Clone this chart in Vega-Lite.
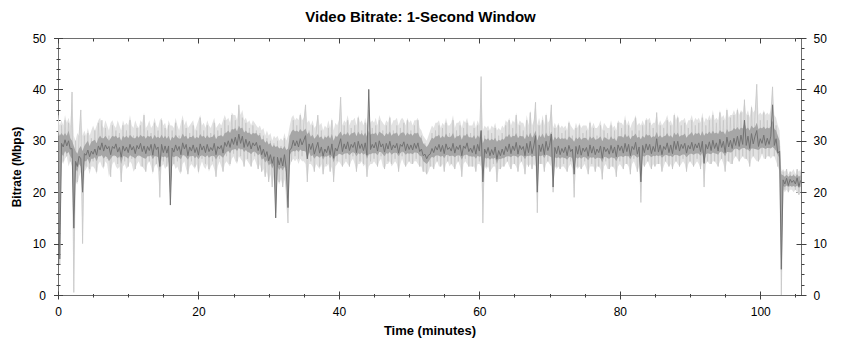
{
"$schema": "https://vega.github.io/schema/vega-lite/v6.json",
"width": 743,
"height": 257,
"autosize": {"type": "none"},
"padding": {"left": 58, "top": 38, "right": 41, "bottom": 59},
"background": "#ffffff",
"title": {"text": "Video Bitrate: 1-Second Window", "font": "Liberation Sans", "fontSize": 15, "fontWeight": "bold", "color": "#000000", "anchor": "middle", "offset": 7, "dx": -9},
"config": {
  "view": {"stroke": "#6e6e6e", "strokeWidth": 1},
  "axis": {"labelFont": "Liberation Sans", "labelFontSize": 12, "labelColor": "#000000", "titleFont": "Liberation Sans", "titleFontSize": 12, "titleFontWeight": "bold", "titleColor": "#000000", "tickColor": "#404040", "domain": false, "grid": false, "labelFlush": false, "labelOverlap": false}
},
"data": {"values": [
{"t":0,"a":35,"h":35,"l":27,"p":32,"q":28,"b":31},{"t":0.25,"a":6,"h":33,"l":6,"p":31,"q":10,"b":7},{"t":0.5,"a":33,"h":34,"l":26,"p":31.5,"q":27.5,"b":29.5},{"t":0.75,"a":26,"h":33,"l":25.5,"p":31,"q":27,"b":28.8},
{"t":1,"a":34,"h":35,"l":26.5,"p":31.5,"q":28,"b":30.2},{"t":1.25,"a":27,"h":33.5,"l":27,"p":31,"q":27.5,"b":29},{"t":1.5,"a":33.5,"h":34.5,"l":25,"p":32,"q":27.8,"b":30},{"t":1.75,"a":26,"h":33,"l":26,"p":30.5,"q":27,"b":28.4},
{"t":2,"a":39.5,"h":39.5,"l":25,"p":30,"q":26.5,"b":28.5},{"t":2.25,"a":0.5,"h":31,"l":0.5,"p":29,"q":14,"b":13},{"t":2.5,"a":30,"h":30,"l":22,"p":28,"q":24.5,"b":26},{"t":2.75,"a":22,"h":31.5,"l":21.5,"p":27.5,"q":24,"b":25},
{"t":3,"a":31,"h":31,"l":23,"p":28.5,"q":25.5,"b":27},{"t":3.25,"a":36,"h":36,"l":24,"p":29,"q":25,"b":26.5},{"t":3.5,"a":10,"h":31,"l":10,"p":28,"q":21,"b":20},{"t":3.75,"a":31,"h":32,"l":24,"p":29,"q":26,"b":27.5},
{"t":4,"a":25,"h":31,"l":24.5,"p":29.5,"q":26,"b":27.2},{"t":4.25,"a":31.5,"h":32.5,"l":25,"p":30,"q":26.5,"b":28.2},{"t":4.5,"a":24.5,"h":31,"l":23.5,"p":29,"q":25.5,"b":26.9},{"t":4.75,"a":30.5,"h":32,"l":25,"p":29.8,"q":26.5,"b":28},
{"t":5,"a":26,"h":33,"l":25,"p":30,"q":26.5,"b":27.4},{"t":5.25,"a":32,"h":32,"l":24.5,"p":30.2,"q":26.8,"b":28.4},{"t":5.5,"a":24,"h":33,"l":23.5,"p":29.5,"q":26,"b":27.2},{"t":5.75,"a":33.5,"h":34,"l":25.5,"p":30.5,"q":27,"b":29},
{"t":6,"a":27,"h":34.5,"l":26,"p":31,"q":27,"b":28.2},{"t":6.25,"a":34,"h":33,"l":25,"p":30.5,"q":27.2,"b":29.6},{"t":6.5,"a":25,"h":32.5,"l":24.5,"p":30.5,"q":26.5,"b":28},{"t":6.75,"a":32.5,"h":34,"l":26,"p":31,"q":27,"b":29.2},
{"t":7,"a":26.5,"h":33,"l":25.5,"p":30.5,"q":26.8,"b":28.4},{"t":7.25,"a":31,"h":32,"l":23,"p":30,"q":26,"b":28.9},{"t":7.5,"a":23,"h":33.5,"l":24,"p":30.5,"q":26.5,"b":27.3},{"t":7.75,"a":33,"h":34,"l":25.5,"p":31,"q":27,"b":28.9},
{"t":8,"a":27,"h":33,"l":26,"p":30.8,"q":27.2,"b":28.5},{"t":8.25,"a":32,"h":32.5,"l":25,"p":31,"q":27,"b":29.4},{"t":8.5,"a":25.5,"h":34,"l":24.5,"p":30.5,"q":26.6,"b":27.8},{"t":8.75,"a":31.5,"h":33,"l":25,"p":30.8,"q":27,"b":28.7},
{"t":9,"a":22,"h":32,"l":22,"p":30,"q":25.5,"b":26.8},{"t":9.25,"a":33,"h":34,"l":25,"p":31,"q":27,"b":29},{"t":9.5,"a":26,"h":33,"l":25.5,"p":30.6,"q":27,"b":28},{"t":9.75,"a":32,"h":33.5,"l":24.5,"p":31,"q":26.8,"b":28.8},
{"t":10,"a":25,"h":33,"l":25,"p":30.5,"q":26.5,"b":27.7},{"t":10.25,"a":34,"h":35,"l":26,"p":31.2,"q":27.2,"b":29.3},{"t":10.5,"a":26.5,"h":33,"l":25.5,"p":30.8,"q":27,"b":28.2},{"t":10.75,"a":31,"h":32.5,"l":24,"p":30.5,"q":26.8,"b":28.9},
{"t":11,"a":24.5,"h":34,"l":24.5,"p":30.5,"q":26.5,"b":27.5},{"t":11.25,"a":32.5,"h":33,"l":25.5,"p":31,"q":27,"b":29.1},{"t":11.5,"a":27,"h":32.5,"l":26,"p":30.6,"q":27.2,"b":28.4},{"t":11.75,"a":33,"h":34,"l":25,"p":31.2,"q":27,"b":29.5},
{"t":12,"a":25,"h":33.5,"l":25,"p":30.8,"q":26.8,"b":27.9},{"t":12.25,"a":35,"h":35.5,"l":24.5,"p":31,"q":26.6,"b":29},{"t":12.5,"a":24,"h":32.5,"l":24,"p":30.4,"q":26.5,"b":27.5},{"t":12.75,"a":32,"h":33,"l":25.5,"p":31,"q":27,"b":28.9},
{"t":13,"a":26,"h":34,"l":26,"p":30.8,"q":27,"b":28.1},{"t":13.25,"a":31.5,"h":32.5,"l":25,"p":31,"q":27.2,"b":29.3},{"t":13.5,"a":24,"h":33,"l":23.5,"p":30.3,"q":26.4,"b":27.2},{"t":13.75,"a":33.5,"h":34.5,"l":25,"p":31.2,"q":27,"b":29.4},
{"t":14,"a":25.5,"h":33,"l":25.5,"p":30.6,"q":27,"b":28.3},{"t":14.25,"a":32,"h":32.5,"l":24.5,"p":30.8,"q":26.8,"b":28.8},{"t":14.5,"a":19,"h":34,"l":19,"p":30.5,"q":24,"b":25},{"t":14.75,"a":34,"h":34.5,"l":25,"p":31.2,"q":27,"b":29.3},
{"t":15,"a":26,"h":33,"l":25.5,"p":30.5,"q":26.8,"b":27.7},{"t":15.25,"a":32.5,"h":33.5,"l":24.5,"p":31,"q":27,"b":29},{"t":15.5,"a":25,"h":32,"l":25,"p":30.4,"q":26.6,"b":27.6},{"t":15.75,"a":33,"h":34,"l":26,"p":31,"q":27,"b":29},
{"t":16,"a":20,"h":33,"l":20,"p":30,"q":19,"b":17.5},{"t":16.25,"a":32,"h":33,"l":25,"p":30.8,"q":27,"b":28.6},{"t":16.5,"a":25.5,"h":32.5,"l":25.5,"p":30.5,"q":26.8,"b":27.8},{"t":16.75,"a":33.5,"h":34.5,"l":24.5,"p":31.2,"q":27,"b":29.2},
{"t":17,"a":26,"h":33,"l":25,"p":30.7,"q":27,"b":28.1},{"t":17.25,"a":31,"h":32,"l":24,"p":30.4,"q":26.7,"b":28.9},{"t":17.5,"a":24,"h":33.5,"l":23.5,"p":30.5,"q":26.4,"b":27.3},{"t":17.75,"a":34,"h":35,"l":25.5,"p":31.4,"q":27.2,"b":29.6},
{"t":18,"a":27,"h":33,"l":26,"p":30.8,"q":27.2,"b":28.4},{"t":18.25,"a":32.5,"h":34,"l":24.5,"p":31,"q":26.8,"b":29.3},{"t":18.5,"a":23.5,"h":32.5,"l":23.5,"p":30.3,"q":26.3,"b":27.1},{"t":18.75,"a":31.5,"h":33,"l":25,"p":30.8,"q":27,"b":28.8},
{"t":19,"a":26,"h":33.5,"l":25.5,"p":30.7,"q":27,"b":28},{"t":19.25,"a":33,"h":34,"l":25,"p":31.1,"q":27.1,"b":29.2},{"t":19.5,"a":25,"h":32,"l":24.5,"p":30.4,"q":26.6,"b":27.7},{"t":19.75,"a":32,"h":33,"l":25.5,"p":30.8,"q":27,"b":28.7},
{"t":20,"a":24,"h":34,"l":23.5,"p":30.5,"q":26.4,"b":27.2},{"t":20.25,"a":34.5,"h":35,"l":25,"p":31.3,"q":27,"b":29.4},{"t":20.5,"a":26.5,"h":33,"l":26,"p":30.8,"q":27.2,"b":28.2},{"t":20.75,"a":32,"h":33.5,"l":25,"p":31,"q":27,"b":29},
{"t":21,"a":25.5,"h":32.5,"l":24.5,"p":30.5,"q":26.8,"b":27.7},{"t":21.25,"a":33,"h":34,"l":25.5,"p":31.1,"q":27.2,"b":29.3},{"t":21.5,"a":24.5,"h":33,"l":24,"p":30.6,"q":26.7,"b":27.9},{"t":21.75,"a":31.5,"h":32.5,"l":25,"p":30.7,"q":27,"b":28.7},
{"t":22,"a":26,"h":33.5,"l":25.5,"p":30.8,"q":27.1,"b":28.1},{"t":22.25,"a":33.5,"h":34.5,"l":24.5,"p":31.3,"q":27,"b":29.5},{"t":22.5,"a":23,"h":32.5,"l":23,"p":30.3,"q":26.3,"b":27.3},{"t":22.75,"a":32,"h":33,"l":25,"p":30.9,"q":27,"b":28.9},
{"t":23,"a":26.5,"h":33.5,"l":26,"p":31,"q":27.3,"b":28.4},{"t":23.25,"a":32.5,"h":33,"l":25,"p":31.1,"q":27,"b":29.1},{"t":23.5,"a":24,"h":34,"l":24,"p":30.8,"q":26.7,"b":27.6},{"t":23.75,"a":34,"h":35,"l":25.5,"p":31.5,"q":27.3,"b":29.7},
{"t":24,"a":27,"h":34,"l":26,"p":31.6,"q":27.8,"b":28.9},{"t":24.25,"a":33,"h":34.5,"l":25.5,"p":32,"q":28,"b":30},{"t":24.5,"a":25.5,"h":33.5,"l":25,"p":31.5,"q":27.6,"b":28.7},{"t":24.75,"a":35,"h":35.5,"l":26.5,"p":32.3,"q":28.2,"b":30.4},
{"t":25,"a":27.5,"h":35,"l":27,"p":32.2,"q":28.3,"b":29.3},{"t":25.25,"a":34,"h":35,"l":26,"p":32.5,"q":28.4,"b":30.7},{"t":25.5,"a":26,"h":34,"l":25.5,"p":31.8,"q":28,"b":29.1},{"t":25.75,"a":37,"h":37,"l":27,"p":33,"q":28.6,"b":31.3},
{"t":26,"a":27,"h":35,"l":26.5,"p":32.4,"q":28.3,"b":29.5},{"t":26.25,"a":34.5,"h":36,"l":26,"p":32.6,"q":28.4,"b":30.9},{"t":26.5,"a":25,"h":34,"l":25,"p":31.6,"q":27.8,"b":28.7},{"t":26.75,"a":33.5,"h":34.5,"l":26.5,"p":32,"q":28.2,"b":30.3},
{"t":27,"a":26.5,"h":33.5,"l":26,"p":31.5,"q":27.8,"b":28.9},{"t":27.25,"a":32.5,"h":34,"l":25.5,"p":31.6,"q":27.7,"b":29.9},{"t":27.5,"a":25,"h":33,"l":25,"p":31.2,"q":27.4,"b":28.4},{"t":27.75,"a":33,"h":34,"l":26,"p":31.5,"q":27.8,"b":29.6},
{"t":28,"a":27,"h":33.5,"l":26.5,"p":31.4,"q":27.9,"b":29},{"t":28.25,"a":32,"h":33,"l":25.5,"p":31.5,"q":27.6,"b":29.7},{"t":28.5,"a":24.5,"h":32.5,"l":24.5,"p":31,"q":27.2,"b":28.1},{"t":28.75,"a":31.5,"h":33,"l":25.5,"p":31.2,"q":27.5,"b":29.1},
{"t":29,"a":24,"h":32,"l":24,"p":30.2,"q":26.3,"b":27.3},{"t":29.25,"a":31,"h":32.5,"l":24.5,"p":30.4,"q":26.6,"b":28.4},{"t":29.5,"a":23,"h":31,"l":23,"p":29.6,"q":25.8,"b":26.9},{"t":29.75,"a":30.5,"h":32,"l":24,"p":30,"q":26.2,"b":27.9},
{"t":30,"a":22,"h":31,"l":22,"p":29.3,"q":25.2,"b":26.1},{"t":30.25,"a":30,"h":31.5,"l":23.5,"p":29.6,"q":25.6,"b":27.3},{"t":30.5,"a":21,"h":30,"l":21,"p":28.8,"q":24.6,"b":25.6},{"t":30.75,"a":29.5,"h":31,"l":23,"p":29.2,"q":25.3,"b":26.9},
{"t":31,"a":16,"h":30.5,"l":16,"p":28.8,"q":17,"b":15},{"t":31.25,"a":30,"h":31,"l":22.5,"p":29,"q":25,"b":26.8},{"t":31.5,"a":22,"h":30,"l":21.5,"p":28.5,"q":24.3,"b":25.3},{"t":31.75,"a":29,"h":30.5,"l":22.5,"p":28.7,"q":24.8,"b":26.7},
{"t":32,"a":21,"h":30,"l":21,"p":28.4,"q":24.2,"b":25.1},{"t":32.25,"a":30.5,"h":31.5,"l":22.5,"p":29,"q":25,"b":27.3},{"t":32.5,"a":20,"h":30,"l":20,"p":28.2,"q":23.8,"b":24.6},{"t":32.75,"a":14,"h":31,"l":14,"p":28.5,"q":18,"b":17},
{"t":33,"a":31,"h":33,"l":25,"p":31,"q":27.3,"b":28.2},{"t":33.25,"a":26,"h":34.5,"l":26,"p":31.8,"q":27.8,"b":28.6},{"t":33.5,"a":34,"h":35,"l":26.5,"p":32.2,"q":28,"b":30.1},{"t":33.75,"a":27,"h":34,"l":26,"p":31.8,"q":27.9,"b":29},
{"t":34,"a":33,"h":34.5,"l":26.5,"p":32,"q":28.2,"b":30},{"t":34.25,"a":26.5,"h":34,"l":25.5,"p":31.7,"q":27.8,"b":28.8},{"t":34.5,"a":35,"h":35.5,"l":26.5,"p":32.3,"q":28.3,"b":30.4},{"t":34.75,"a":27,"h":34,"l":26,"p":31.8,"q":28,"b":29.2},
{"t":35,"a":33.5,"h":34.5,"l":26,"p":32,"q":28,"b":30.1},{"t":35.25,"a":37,"h":37,"l":25.5,"p":32.4,"q":27.9,"b":31},{"t":35.5,"a":22,"h":33.5,"l":22,"p":31.3,"q":26.5,"b":26.5},{"t":35.75,"a":32,"h":34,"l":25.5,"p":31.7,"q":27.8,"b":29.4},
{"t":36,"a":26,"h":33,"l":25.5,"p":30.8,"q":27,"b":28.3},{"t":36.25,"a":33,"h":34,"l":25,"p":31.2,"q":27.2,"b":29.5},{"t":36.5,"a":24,"h":32.5,"l":24,"p":30.4,"q":26.5,"b":27.4},{"t":36.75,"a":31.5,"h":33,"l":25.5,"p":30.8,"q":27,"b":28.6},
{"t":37,"a":35,"h":35,"l":25,"p":31.3,"q":27,"b":29.7},{"t":37.25,"a":25,"h":33,"l":24.5,"p":30.6,"q":26.7,"b":27.6},{"t":37.5,"a":32,"h":33.5,"l":25.5,"p":30.9,"q":27.1,"b":28.8},{"t":37.75,"a":23.5,"h":32,"l":23.5,"p":30.2,"q":26.3,"b":27},
{"t":38,"a":31,"h":33,"l":25,"p":30.8,"q":27,"b":28.4},{"t":38.25,"a":25.5,"h":32.5,"l":25,"p":30.6,"q":26.9,"b":27.7},{"t":38.5,"a":32.5,"h":34,"l":25.5,"p":31.1,"q":27.2,"b":29},{"t":38.75,"a":24,"h":32.5,"l":24,"p":30.4,"q":26.6,"b":27.3},
{"t":39,"a":34,"h":34.5,"l":25,"p":31.3,"q":27.1,"b":29.4},{"t":39.25,"a":22,"h":32,"l":22,"p":30,"q":25.8,"b":26.6},{"t":39.5,"a":31,"h":33.5,"l":25,"p":30.9,"q":27,"b":28.6},{"t":39.75,"a":26,"h":33,"l":25.5,"p":30.8,"q":27.1,"b":28},
{"t":40,"a":32,"h":34,"l":26,"p":31.3,"q":27.5,"b":29.2},{"t":40.25,"a":38.5,"h":38.5,"l":25.5,"p":31.8,"q":27.4,"b":30.4},{"t":40.5,"a":25,"h":33,"l":25,"p":31,"q":27.2,"b":27.9},{"t":40.75,"a":33,"h":34,"l":25.5,"p":31.4,"q":27.5,"b":29.4},
{"t":41,"a":26.5,"h":33.5,"l":26,"p":31.2,"q":27.6,"b":28.4},{"t":41.25,"a":34,"h":35,"l":25.5,"p":31.7,"q":27.6,"b":29.8},{"t":41.5,"a":25,"h":33,"l":25,"p":31,"q":27.2,"b":28.1},{"t":41.75,"a":32.5,"h":34,"l":26,"p":31.4,"q":27.6,"b":29.3},
{"t":42,"a":27,"h":34,"l":26.5,"p":31.5,"q":27.8,"b":28.7},{"t":42.25,"a":33,"h":34.5,"l":25.5,"p":31.7,"q":27.6,"b":29.7},{"t":42.5,"a":24,"h":33,"l":24,"p":30.9,"q":27,"b":27.7},{"t":42.75,"a":34.5,"h":35,"l":25.5,"p":31.8,"q":27.6,"b":29.9},
{"t":43,"a":26,"h":33.5,"l":25.5,"p":31.2,"q":27.4,"b":28.5},{"t":43.25,"a":32,"h":34,"l":26,"p":31.5,"q":27.7,"b":29.4},{"t":43.5,"a":25.5,"h":33,"l":25,"p":31,"q":27.3,"b":28.1},{"t":43.75,"a":33.5,"h":34.5,"l":25.5,"p":31.6,"q":27.6,"b":29.6},
{"t":44,"a":23,"h":33,"l":23,"p":30.8,"q":26.5,"b":27.2},{"t":44.25,"a":36,"h":36,"l":25,"p":32,"q":27.4,"b":40},{"t":44.5,"a":26,"h":33.5,"l":25.5,"p":31.2,"q":27.4,"b":28.3},{"t":44.75,"a":32.5,"h":34,"l":25.5,"p":31.4,"q":27.6,"b":29.3},
{"t":45,"a":26.5,"h":33.5,"l":26,"p":31.3,"q":27.6,"b":28.6},{"t":45.25,"a":33,"h":34.5,"l":25.5,"p":31.6,"q":27.6,"b":29.7},{"t":45.5,"a":25,"h":33,"l":25,"p":31,"q":27.2,"b":28},{"t":45.75,"a":34,"h":35,"l":26,"p":31.8,"q":27.8,"b":30},
{"t":46,"a":27,"h":34,"l":26.5,"p":31.5,"q":27.8,"b":28.8},{"t":46.25,"a":32,"h":33.5,"l":25,"p":31.3,"q":27.4,"b":29.4},{"t":46.5,"a":24.5,"h":33,"l":24.5,"p":30.9,"q":27,"b":27.8},{"t":46.75,"a":33,"h":34,"l":25.5,"p":31.5,"q":27.6,"b":29.5},
{"t":47,"a":26,"h":33.5,"l":25.5,"p":31.2,"q":27.5,"b":28.4},{"t":47.25,"a":34.5,"h":35,"l":26,"p":31.8,"q":27.8,"b":29.9},{"t":47.5,"a":25.5,"h":33,"l":25,"p":31,"q":27.3,"b":28.2},{"t":47.75,"a":32,"h":34,"l":25.5,"p":31.4,"q":27.6,"b":29.2},
{"t":48,"a":26.5,"h":34,"l":26,"p":31.4,"q":27.7,"b":28.6},{"t":48.25,"a":33,"h":34.5,"l":25.5,"p":31.6,"q":27.6,"b":29.5},{"t":48.5,"a":24,"h":33,"l":24,"p":30.9,"q":27,"b":27.6},{"t":48.75,"a":32.5,"h":34,"l":25.5,"p":31.4,"q":27.6,"b":29.3},
{"t":49,"a":27,"h":34.5,"l":26.5,"p":31.6,"q":27.9,"b":28.9},{"t":49.25,"a":33.5,"h":34,"l":25.5,"p":31.6,"q":27.7,"b":29.8},{"t":49.5,"a":25,"h":33,"l":25,"p":31,"q":27.3,"b":28.1},{"t":49.75,"a":34,"h":34.5,"l":25.5,"p":31.6,"q":27.6,"b":29.4},
{"t":50,"a":26,"h":33.5,"l":26,"p":31.2,"q":27.5,"b":28.3},{"t":50.25,"a":32,"h":34,"l":25.5,"p":31.4,"q":27.6,"b":29.2},{"t":50.5,"a":25.5,"h":33,"l":25.5,"p":31,"q":27.4,"b":28.2},{"t":50.75,"a":33,"h":34,"l":26,"p":31.5,"q":27.7,"b":29.5},
{"t":51,"a":26.5,"h":34,"l":26,"p":31.4,"q":27.7,"b":28.5},{"t":51.25,"a":34,"h":34.5,"l":25.5,"p":31.6,"q":27.6,"b":29.6},{"t":51.5,"a":25,"h":32.5,"l":25,"p":30.8,"q":27.1,"b":27.9},{"t":51.75,"a":31,"h":32,"l":25,"p":30.5,"q":27,"b":28.4},
{"t":52,"a":24,"h":31,"l":24,"p":29.5,"q":26,"b":27.1},{"t":52.25,"a":29.5,"h":30.5,"l":24,"p":29.2,"q":25.8,"b":27.4},{"t":52.5,"a":23.5,"h":30,"l":23.5,"p":28.8,"q":25.5,"b":26.5},{"t":52.75,"a":29,"h":31,"l":24,"p":29.3,"q":25.9,"b":27.2},
{"t":53,"a":25,"h":32,"l":25,"p":30,"q":26.5,"b":27.4},{"t":53.25,"a":31.5,"h":33,"l":25,"p":30.6,"q":26.9,"b":28.5},{"t":53.5,"a":24.5,"h":32.5,"l":24.5,"p":30.4,"q":26.7,"b":27.7},{"t":53.75,"a":32,"h":33.5,"l":25.5,"p":30.9,"q":27.1,"b":28.9},
{"t":54,"a":26,"h":33.5,"l":26,"p":30.9,"q":27.2,"b":28.2},{"t":54.25,"a":33,"h":34,"l":25,"p":31.2,"q":27.1,"b":29.3},{"t":54.5,"a":25,"h":32.5,"l":25,"p":30.5,"q":26.9,"b":27.9},{"t":54.75,"a":32.5,"h":33.5,"l":25.5,"p":31,"q":27.1,"b":29.1},
{"t":55,"a":24,"h":33,"l":24,"p":30.6,"q":26.6,"b":27.5},{"t":55.25,"a":33.5,"h":34.5,"l":25.5,"p":31.4,"q":27.2,"b":29.4},{"t":55.5,"a":26,"h":33,"l":26,"p":30.8,"q":27.3,"b":28.3},{"t":55.75,"a":31.5,"h":33,"l":25,"p":30.7,"q":27,"b":28.7},
{"t":56,"a":25.5,"h":33.5,"l":25.5,"p":30.9,"q":27.1,"b":28},{"t":56.25,"a":34,"h":35,"l":25,"p":31.5,"q":27.1,"b":29.5},{"t":56.5,"a":24.5,"h":32.5,"l":24.5,"p":30.4,"q":26.8,"b":27.6},{"t":56.75,"a":32,"h":33.5,"l":25.5,"p":30.9,"q":27.1,"b":28.9},
{"t":57,"a":26,"h":33.5,"l":26,"p":30.9,"q":27.2,"b":28.3},{"t":57.25,"a":33,"h":34,"l":25,"p":31.2,"q":27.1,"b":29.2},{"t":57.5,"a":23,"h":32.5,"l":23,"p":30.2,"q":26.3,"b":27.1},{"t":57.75,"a":32.5,"h":34,"l":25.5,"p":31.1,"q":27.1,"b":29},
{"t":58,"a":26.5,"h":33.5,"l":26,"p":31,"q":27.3,"b":28.5},{"t":58.25,"a":33.5,"h":34.5,"l":25.5,"p":31.4,"q":27.3,"b":29.6},{"t":58.5,"a":25,"h":33,"l":25,"p":30.7,"q":27,"b":27.9},{"t":58.75,"a":31.5,"h":33,"l":25,"p":30.7,"q":27,"b":28.6},
{"t":59,"a":25,"h":33,"l":25,"p":30.6,"q":26.9,"b":27.7},{"t":59.25,"a":32.5,"h":34,"l":25,"p":31.1,"q":27,"b":29.1},{"t":59.5,"a":24,"h":32.5,"l":24,"p":30.3,"q":26.5,"b":27.4},{"t":59.75,"a":33,"h":34,"l":25.5,"p":31.1,"q":27.1,"b":29.3},
{"t":60,"a":26,"h":33,"l":25.5,"p":30.6,"q":26.9,"b":28},{"t":60.25,"a":42.5,"h":42.5,"l":25,"p":32,"q":27,"b":32},{"t":60.5,"a":14,"h":32,"l":14,"p":29.5,"q":22,"b":22},{"t":60.75,"a":31,"h":33,"l":25,"p":30.5,"q":26.8,"b":28.4},
{"t":61,"a":25,"h":32.5,"l":24.5,"p":30.2,"q":26.5,"b":27.5},{"t":61.25,"a":32,"h":33,"l":25,"p":30.5,"q":26.7,"b":28.7},{"t":61.5,"a":24,"h":32,"l":24,"p":30,"q":26.3,"b":27.1},{"t":61.75,"a":31.5,"h":33,"l":24.5,"p":30.4,"q":26.6,"b":28.3},
{"t":62,"a":25.5,"h":32.5,"l":25,"p":30.1,"q":26.5,"b":27.3},{"t":62.25,"a":32.5,"h":33.5,"l":25,"p":30.6,"q":26.7,"b":28.8},{"t":62.5,"a":22,"h":32,"l":22,"p":29.8,"q":25.5,"b":26.4},{"t":62.75,"a":31,"h":32.5,"l":24.5,"p":30.2,"q":26.5,"b":28.1},
{"t":63,"a":24.5,"h":32,"l":24.5,"p":30,"q":26.4,"b":27.1},{"t":63.25,"a":31.5,"h":33,"l":25,"p":30.4,"q":26.6,"b":28.4},{"t":63.5,"a":25,"h":32.5,"l":25,"p":30.2,"q":26.6,"b":27.3},{"t":63.75,"a":33,"h":34,"l":25.5,"p":30.9,"q":26.9,"b":28.9},
{"t":64,"a":26,"h":33.5,"l":26,"p":30.8,"q":27,"b":27.9},{"t":64.25,"a":34,"h":34.5,"l":25,"p":31.3,"q":27,"b":29.4},{"t":64.5,"a":24.5,"h":33,"l":24.5,"p":30.6,"q":26.8,"b":27.5},{"t":64.75,"a":32.5,"h":34,"l":25.5,"p":31,"q":27.1,"b":29},
{"t":65,"a":25.5,"h":33.5,"l":25.5,"p":30.9,"q":27.1,"b":28.1},{"t":65.25,"a":35,"h":35.5,"l":25,"p":31.5,"q":27,"b":29.7},{"t":65.5,"a":24,"h":33,"l":24,"p":30.5,"q":26.7,"b":27.4},{"t":65.75,"a":33,"h":34,"l":25.5,"p":31,"q":27.1,"b":29.1},
{"t":66,"a":26,"h":33.5,"l":26,"p":30.9,"q":27.2,"b":28.3},{"t":66.25,"a":32,"h":33.5,"l":25,"p":30.9,"q":27,"b":28.9},{"t":66.5,"a":23.5,"h":32.5,"l":23.5,"p":30.3,"q":26.4,"b":27.1},{"t":66.75,"a":34,"h":35,"l":25.5,"p":31.3,"q":27.1,"b":29.5},
{"t":67,"a":25,"h":33,"l":25,"p":30.7,"q":27,"b":27.7},{"t":67.25,"a":35.5,"h":36,"l":25.5,"p":31.6,"q":27.2,"b":29.9},{"t":67.5,"a":24.5,"h":33,"l":24.5,"p":30.6,"q":26.8,"b":27.5},{"t":67.75,"a":32.5,"h":34,"l":25.5,"p":31.1,"q":27.1,"b":29},
{"t":68,"a":37.5,"h":37.5,"l":25,"p":32,"q":27,"b":31},{"t":68.25,"a":16,"h":33,"l":16,"p":30,"q":21,"b":20},{"t":68.5,"a":33,"h":34.5,"l":25.5,"p":31.2,"q":27.1,"b":29.2},{"t":68.75,"a":25.5,"h":33,"l":25.5,"p":30.7,"q":27,"b":27.9},
{"t":69,"a":34,"h":35,"l":25.5,"p":31.4,"q":27.2,"b":29.4},{"t":69.25,"a":24,"h":33,"l":24,"p":30.5,"q":26.6,"b":27.3},{"t":69.5,"a":35,"h":35.5,"l":25.5,"p":31.6,"q":27.3,"b":29.9},{"t":69.75,"a":26,"h":33.5,"l":26,"p":30.9,"q":27.2,"b":28.1},
{"t":70,"a":32,"h":34,"l":25.5,"p":31,"q":27,"b":29.1},{"t":70.25,"a":37,"h":37,"l":25,"p":31.8,"q":26.8,"b":31.3},{"t":70.5,"a":20,"h":32.5,"l":20,"p":30,"q":23,"b":21},{"t":70.75,"a":32.5,"h":33.5,"l":25,"p":30.8,"q":26.8,"b":28.7},
{"t":71,"a":25,"h":32.5,"l":24.5,"p":30.3,"q":26.6,"b":27.5},{"t":71.25,"a":33,"h":33.5,"l":25,"p":30.8,"q":26.8,"b":29},{"t":71.5,"a":24.5,"h":32.5,"l":24.5,"p":30.3,"q":26.5,"b":27.3},{"t":71.75,"a":31.5,"h":33,"l":25,"p":30.5,"q":26.8,"b":28.5},
{"t":72,"a":25.5,"h":32.5,"l":25,"p":30.4,"q":26.7,"b":27.7},{"t":72.25,"a":32,"h":33,"l":24.5,"p":30.5,"q":26.6,"b":28.8},{"t":72.5,"a":24,"h":32,"l":24,"p":30.1,"q":26.3,"b":27.1},{"t":72.75,"a":33.5,"h":34,"l":25,"p":30.9,"q":26.8,"b":29.1},
{"t":73,"a":26,"h":33,"l":25.5,"p":30.6,"q":26.9,"b":27.9},{"t":73.25,"a":31,"h":32.5,"l":24.5,"p":30.3,"q":26.5,"b":28.4},{"t":73.5,"a":19,"h":32,"l":19,"p":29.8,"q":24,"b":23.5},{"t":73.75,"a":32.5,"h":33.5,"l":25,"p":30.7,"q":26.8,"b":28.9},
{"t":74,"a":25,"h":32.5,"l":24.5,"p":30.3,"q":26.5,"b":27.4},{"t":74.25,"a":33,"h":33.5,"l":25,"p":30.8,"q":26.8,"b":29.1},{"t":74.5,"a":24.5,"h":32.5,"l":24.5,"p":30.2,"q":26.5,"b":27.2},{"t":74.75,"a":31.5,"h":33,"l":25,"p":30.5,"q":26.8,"b":28.6},
{"t":75,"a":26,"h":33,"l":25.5,"p":30.6,"q":26.9,"b":27.9},{"t":75.25,"a":32,"h":33,"l":24.5,"p":30.5,"q":26.6,"b":28.7},{"t":75.5,"a":23.5,"h":32,"l":23.5,"p":30,"q":26.2,"b":27},{"t":75.75,"a":33.5,"h":34,"l":25,"p":30.9,"q":26.8,"b":29.2},
{"t":76,"a":25.5,"h":32.5,"l":25,"p":30.4,"q":26.7,"b":27.6},{"t":76.25,"a":32.5,"h":33.5,"l":25,"p":30.8,"q":26.8,"b":28.9},{"t":76.5,"a":24,"h":32.5,"l":24,"p":30.2,"q":26.4,"b":27.3},{"t":76.75,"a":31,"h":32.5,"l":25,"p":30.3,"q":26.7,"b":28.4},
{"t":77,"a":25,"h":33,"l":25,"p":30.5,"q":26.7,"b":27.7},{"t":77.25,"a":33,"h":34,"l":24.5,"p":30.9,"q":26.6,"b":29},{"t":77.5,"a":22.5,"h":32,"l":22.5,"p":29.9,"q":25.8,"b":26.6},{"t":77.75,"a":32,"h":33.5,"l":25,"p":30.7,"q":26.8,"b":28.8},
{"t":78,"a":26,"h":33,"l":25.5,"p":30.6,"q":26.9,"b":27.9},{"t":78.25,"a":31.5,"h":32.5,"l":24.5,"p":30.3,"q":26.6,"b":28.5},{"t":78.5,"a":24.5,"h":32.5,"l":24.5,"p":30.2,"q":26.5,"b":27.4},{"t":78.75,"a":33,"h":34,"l":25,"p":30.9,"q":26.8,"b":29.1},
{"t":79,"a":25,"h":32.5,"l":25,"p":30.3,"q":26.7,"b":27.6},{"t":79.25,"a":32,"h":33,"l":24.5,"p":30.5,"q":26.6,"b":28.8},{"t":79.5,"a":23,"h":32,"l":23,"p":29.9,"q":26,"b":26.9},{"t":79.75,"a":33.5,"h":34,"l":25,"p":30.9,"q":26.8,"b":29.2},
{"t":80,"a":26,"h":33.5,"l":25.5,"p":30.9,"q":27,"b":28.1},{"t":80.25,"a":32.5,"h":33.5,"l":25,"p":30.9,"q":27,"b":29},{"t":80.5,"a":24.5,"h":33,"l":24.5,"p":30.6,"q":26.8,"b":27.6},{"t":80.75,"a":34,"h":35,"l":25.5,"p":31.4,"q":27.1,"b":29.5},
{"t":81,"a":25.5,"h":33,"l":25.5,"p":30.7,"q":27,"b":27.9},{"t":81.25,"a":33,"h":34,"l":25,"p":31.1,"q":27,"b":29.3},{"t":81.5,"a":23.5,"h":32.5,"l":23.5,"p":30.3,"q":26.4,"b":27.1},{"t":81.75,"a":32,"h":33.5,"l":25.5,"p":30.9,"q":27.1,"b":28.9},
{"t":82,"a":26.5,"h":34,"l":26,"p":31,"q":27.3,"b":28.3},{"t":82.25,"a":34.5,"h":35,"l":25,"p":31.4,"q":27,"b":29.7},{"t":82.5,"a":24,"h":33,"l":24,"p":30.6,"q":26.7,"b":27.4},{"t":82.75,"a":32,"h":33.5,"l":25,"p":30.8,"q":27,"b":28.8},
{"t":83,"a":18,"h":33,"l":18,"p":30.3,"q":23,"b":22},{"t":83.25,"a":33,"h":34,"l":25.5,"p":31,"q":27.1,"b":29.1},{"t":83.5,"a":25,"h":33,"l":25,"p":30.6,"q":26.9,"b":27.7},{"t":83.75,"a":34,"h":34.5,"l":25.5,"p":31.3,"q":27.2,"b":29.4},
{"t":84,"a":26,"h":34,"l":26,"p":31,"q":27.3,"b":28.2},{"t":84.25,"a":33.5,"h":34.5,"l":25,"p":31.2,"q":27.1,"b":29.3},{"t":84.5,"a":24.5,"h":33,"l":24.5,"p":30.6,"q":26.8,"b":27.5},{"t":84.75,"a":32.5,"h":33.5,"l":25.5,"p":30.9,"q":27.1,"b":28.9},
{"t":85,"a":25,"h":33.5,"l":25,"p":30.8,"q":27,"b":27.9},{"t":85.25,"a":35.5,"h":35.5,"l":25.5,"p":31.7,"q":27.2,"b":30.4},{"t":85.5,"a":25.5,"h":33,"l":25.5,"p":30.7,"q":27,"b":27.8},{"t":85.75,"a":33,"h":34,"l":25.5,"p":31.1,"q":27.2,"b":29.2},
{"t":86,"a":24,"h":33,"l":24,"p":30.6,"q":26.7,"b":27.3},{"t":86.25,"a":32.5,"h":33.5,"l":25,"p":30.9,"q":27,"b":28.9},{"t":86.5,"a":26,"h":34,"l":26,"p":31,"q":27.3,"b":28.3},{"t":86.75,"a":34,"h":35,"l":25.5,"p":31.5,"q":27.2,"b":29.6},
{"t":87,"a":25,"h":33.5,"l":25,"p":30.8,"q":27,"b":27.7},{"t":87.25,"a":33,"h":34,"l":25.5,"p":31.1,"q":27.1,"b":29.2},{"t":87.5,"a":24.5,"h":33,"l":24.5,"p":30.6,"q":26.8,"b":27.5},{"t":87.75,"a":35,"h":35.5,"l":25.5,"p":31.6,"q":27.2,"b":29.9},
{"t":88,"a":26,"h":34,"l":26,"p":31.1,"q":27.3,"b":28.3},{"t":88.25,"a":34.5,"h":35,"l":25.5,"p":31.6,"q":27.2,"b":29.9},{"t":88.5,"a":25,"h":33.5,"l":25,"p":30.8,"q":27,"b":28},{"t":88.75,"a":33,"h":34,"l":25.5,"p":31.1,"q":27.2,"b":29.3},
{"t":89,"a":26.5,"h":34,"l":26,"p":31.1,"q":27.4,"b":28.5},{"t":89.25,"a":33.5,"h":34.5,"l":25.5,"p":31.4,"q":27.3,"b":29.5},{"t":89.5,"a":24,"h":33,"l":24,"p":30.6,"q":26.8,"b":27.6},{"t":89.75,"a":32.5,"h":34,"l":25.5,"p":31.1,"q":27.2,"b":29.1},
{"t":90,"a":26,"h":34,"l":26,"p":31.3,"q":27.5,"b":28.4},{"t":90.25,"a":34,"h":35,"l":25.5,"p":31.7,"q":27.5,"b":29.7},{"t":90.5,"a":25,"h":33.5,"l":25,"p":31,"q":27.3,"b":28.1},{"t":90.75,"a":33,"h":34.5,"l":25.5,"p":31.5,"q":27.5,"b":29.4},
{"t":91,"a":26.5,"h":34,"l":26,"p":31.3,"q":27.6,"b":28.6},{"t":91.25,"a":33.5,"h":34.5,"l":25.5,"p":31.6,"q":27.5,"b":29.6},{"t":91.5,"a":24.5,"h":33.5,"l":24.5,"p":31,"q":27.1,"b":27.9},{"t":91.75,"a":34.5,"h":35.5,"l":26,"p":31.9,"q":27.7,"b":29.9},
{"t":92,"a":21,"h":33.5,"l":21,"p":31,"q":25.5,"b":25.6},{"t":92.25,"a":33,"h":34.5,"l":25.5,"p":31.5,"q":27.4,"b":29.3},{"t":92.5,"a":26,"h":34,"l":26,"p":31.3,"q":27.6,"b":28.4},{"t":92.75,"a":34,"h":35,"l":25.5,"p":31.8,"q":27.5,"b":29.8},
{"t":93,"a":25.5,"h":34,"l":25.5,"p":31.3,"q":27.4,"b":28.1},{"t":93.25,"a":35,"h":36,"l":26,"p":32,"q":27.7,"b":30.1},{"t":93.5,"a":26,"h":34,"l":26,"p":31.4,"q":27.6,"b":28.5},{"t":93.75,"a":33.5,"h":34.5,"l":25.5,"p":31.6,"q":27.5,"b":29.6},
{"t":94,"a":25,"h":34,"l":25,"p":31.3,"q":27.3,"b":28},{"t":94.25,"a":35.5,"h":36,"l":26,"p":32.1,"q":27.8,"b":30.3},{"t":94.5,"a":26.5,"h":34.5,"l":26.5,"p":31.7,"q":27.9,"b":28.7},{"t":94.75,"a":34,"h":35,"l":25.5,"p":31.8,"q":27.6,"b":29.9},
{"t":95,"a":24,"h":34,"l":24,"p":31.2,"q":27,"b":27.7},{"t":95.25,"a":36,"h":36.5,"l":26,"p":32.3,"q":27.8,"b":30.7},{"t":95.5,"a":26,"h":34.5,"l":26,"p":31.7,"q":27.8,"b":28.8},{"t":95.75,"a":34.5,"h":35,"l":25.5,"p":31.9,"q":27.7,"b":30.1},
{"t":96,"a":25.5,"h":35,"l":25.5,"p":32,"q":27.8,"b":28.5},{"t":96.25,"a":35,"h":36,"l":26.5,"p":32.5,"q":28.3,"b":30.5},{"t":96.5,"a":27,"h":35,"l":27,"p":32.2,"q":28.5,"b":29.1},{"t":96.75,"a":36,"h":36.5,"l":26.5,"p":32.7,"q":28.4,"b":30.9},
{"t":97,"a":26,"h":35,"l":26,"p":32.1,"q":28.1,"b":28.9},{"t":97.25,"a":35.5,"h":36,"l":26.5,"p":32.6,"q":28.4,"b":31.1},{"t":97.5,"a":27,"h":35.5,"l":27,"p":32.4,"q":28.6,"b":29.3},{"t":97.75,"a":38,"h":38,"l":26.5,"p":33.5,"q":28.6,"b":34},
{"t":98,"a":26.5,"h":35,"l":26.5,"p":32.3,"q":28.3,"b":29.1},{"t":98.25,"a":35,"h":36,"l":26,"p":32.6,"q":28.3,"b":30.9},{"t":98.5,"a":25,"h":34.5,"l":25,"p":32,"q":27.9,"b":28.5},{"t":98.75,"a":36.5,"h":37,"l":26.5,"p":33,"q":28.5,"b":31.4},
{"t":99,"a":27,"h":35.5,"l":27,"p":32.5,"q":28.5,"b":29.4},{"t":99.25,"a":35,"h":36,"l":26.5,"p":32.7,"q":28.4,"b":30.9},{"t":99.5,"a":41,"h":41,"l":26,"p":33.5,"q":28.3,"b":32},{"t":99.75,"a":26,"h":35,"l":26,"p":32.2,"q":28.2,"b":28.9},
{"t":100,"a":34,"h":35.5,"l":26.5,"p":32.6,"q":28.5,"b":30.4},{"t":100.25,"a":27.5,"h":35,"l":27.5,"p":32.4,"q":28.7,"b":29.5},{"t":100.5,"a":35.5,"h":36,"l":26.5,"p":32.8,"q":28.6,"b":31.1},{"t":100.75,"a":26.5,"h":35,"l":26.5,"p":32.3,"q":28.4,"b":29.1},
{"t":101,"a":34,"h":35.5,"l":27,"p":32.6,"q":28.6,"b":30.5},{"t":101.25,"a":27,"h":35,"l":27,"p":32.4,"q":28.6,"b":29.3},{"t":101.5,"a":35,"h":36,"l":26.5,"p":32.8,"q":28.5,"b":30.9},{"t":101.75,"a":40.5,"h":40.5,"l":27,"p":34,"q":28.8,"b":37},
{"t":102,"a":27,"h":35,"l":27,"p":32.3,"q":28.5,"b":29.1},{"t":102.25,"a":33,"h":34.5,"l":26,"p":32,"q":28,"b":30.4},{"t":102.5,"a":25,"h":33,"l":25,"p":31,"q":27.3,"b":27.6},{"t":102.75,"a":29,"h":32,"l":24,"p":30,"q":26.5,"b":28},
{"t":103,"a":0,"h":24,"l":0,"p":23.5,"q":6,"b":5},{"t":103.25,"a":24,"h":24.5,"l":20.5,"p":23.3,"q":21.2,"b":22.4},{"t":103.5,"a":20.5,"h":24,"l":20,"p":23,"q":21,"b":21.6},{"t":103.75,"a":24.5,"h":24.5,"l":20.5,"p":23.4,"q":21.3,"b":22.7},
{"t":104,"a":20,"h":23.5,"l":20,"p":23,"q":21,"b":21.3},{"t":104.25,"a":24,"h":24,"l":20.5,"p":23.3,"q":21.2,"b":22.5},{"t":104.5,"a":21,"h":24,"l":20.5,"p":23.1,"q":21.1,"b":21.9},{"t":104.75,"a":23.5,"h":24.5,"l":20,"p":23.4,"q":21.2,"b":22.3},
{"t":105,"a":20.5,"h":23.5,"l":20.5,"p":23,"q":21,"b":21.6},{"t":105.25,"a":24.5,"h":24.5,"l":20,"p":23.5,"q":21.3,"b":22.8},{"t":105.5,"a":19.5,"h":24,"l":19.5,"p":23,"q":20.8,"b":21.1},{"t":105.75,"a":24,"h":24.5,"l":20,"p":23.3,"q":21.1,"b":22.3}
]},
"layer": [
  {
    "mark": {"type": "area", "color": "#e2e2e2", "clip": true},
    "encoding": {
      "x": {"field": "t", "type": "quantitative", "scale": {"domain": [0, 105.8], "nice": false, "zero": false},
        "axis": {"orient": "bottom", "values": [0, 20, 40, 60, 80, 100], "tickSize": 8, "offset": -4, "labelPadding": 7, "title": "Time (minutes)", "titleFontSize": 13, "titlePadding": 7}},
      "y": {"field": "h", "type": "quantitative", "scale": {"domain": [0, 50], "nice": false, "zero": false},
        "axis": {"orient": "left", "values": [0, 10, 20, 30, 40, 50], "tickSize": 9, "offset": -4.5, "labelPadding": 8, "title": "Bitrate (Mbps)", "titlePadding": 9}},
      "y2": {"field": "l"}
    }
  },
  {
    "mark": {"type": "line", "color": "#c6c6c6", "strokeWidth": 0.8, "clip": true},
    "encoding": {
      "x": {"field": "t", "type": "quantitative",
        "axis": {"orient": "top", "values": [0, 20, 40, 60, 80, 100], "tickSize": -5, "labels": false, "title": null}},
      "y": {"field": "a", "type": "quantitative",
        "axis": {"orient": "right", "values": [0, 10, 20, 30, 40, 50], "tickSize": 10, "offset": -5, "labelPadding": 7, "title": null}}
    }
  },
  {
    "mark": {"type": "area", "color": "#a6a6a6", "clip": true},
    "encoding": {
      "x": {"field": "t", "type": "quantitative",
        "axis": {"orient": "bottom", "values": [0, 5, 10, 15, 20, 25, 30, 35, 40, 45, 50, 55, 60, 65, 70, 75, 80, 85, 90, 95, 100, 105], "tickSize": 3.5, "offset": -1.5, "labels": false, "title": null}},
      "y": {"field": "p", "type": "quantitative",
        "axis": {"orient": "left", "values": [0, 2, 4, 6, 8, 10, 12, 14, 16, 18, 20, 22, 24, 26, 28, 30, 32, 34, 36, 38, 40, 42, 44, 46, 48, 50], "tickSize": 4, "offset": -2, "labels": false, "title": null}},
      "y2": {"field": "q"}
    }
  },
  {
    "mark": {"type": "line", "color": "#727272", "strokeWidth": 1, "clip": true},
    "encoding": {
      "x": {"field": "t", "type": "quantitative",
        "axis": {"orient": "top", "values": [0, 5, 10, 15, 20, 25, 30, 35, 40, 45, 50, 55, 60, 65, 70, 75, 80, 85, 90, 95, 100, 105], "tickSize": -3, "labels": false, "title": null}},
      "y": {"field": "b", "type": "quantitative",
        "axis": {"orient": "right", "values": [0, 2, 4, 6, 8, 10, 12, 14, 16, 18, 20, 22, 24, 26, 28, 30, 32, 34, 36, 38, 40, 42, 44, 46, 48, 50], "tickSize": 3, "labels": false, "title": null}}
    }
  }
],
"resolve": {"axis": {"x": "independent", "y": "independent"}}
}
